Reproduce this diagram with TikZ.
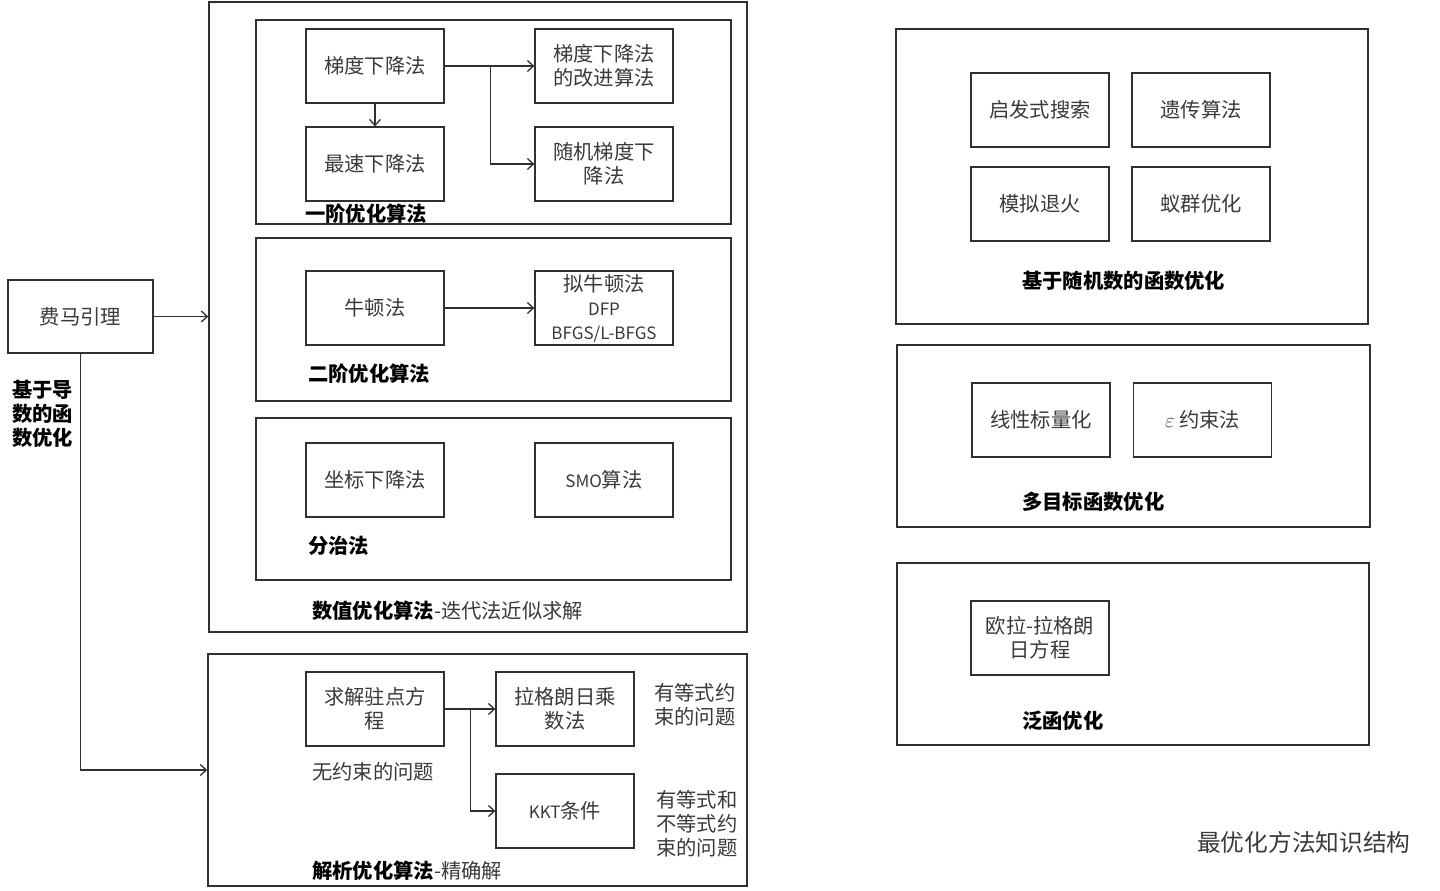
\documentclass[tikz,border=0pt]{standalone}
\usepackage{fontspec}
\setmainfont{Noto Sans CJK SC}
\usetikzlibrary{arrows.meta}
\definecolor{linec}{HTML}{303030}
\definecolor{txt}{HTML}{3A3A3A}
\newcommand{\latsmall}{\fontsize{17}{24}\selectfont}
\begin{document}
\begin{tikzpicture}[x=1pt,y=-1pt,
  box/.style={draw=linec, line width=1.3pt, minimum width=138pt, minimum height=74pt, inner sep=0pt, align=center, font=\fontsize{20.3}{24}\selectfont, text=txt},
  frame/.style={draw=linec, line width=1.5pt, inner sep=0pt},
  lab/.style={font=\fontsize{20.3}{24}\selectfont\bfseries, anchor=west, inner sep=0pt, text=black, align=left},
  note/.style={font=\fontsize{20.3}{24}\selectfont, align=left, anchor=west, inner sep=0pt, text=txt},
  arr/.style={draw=linec, line width=1.3pt, -{Straight Barb[length=6pt,width=11pt,line width=1.3pt]}},
]
\fill[white] (0,0) rectangle (1440,891);
\useasboundingbox (0,0) rectangle (1440,891);

% frames
\node[frame, minimum width=538pt, minimum height=630pt] (big1) at (478,317) {};
\node[frame, minimum width=539pt, minimum height=232pt] (big2) at (477.5,770) {};
\node[frame, minimum width=475pt, minimum height=204pt] (sub1) at (493.5,122) {};
\node[frame, minimum width=475pt, minimum height=163pt] (sub2) at (493.5,319.5) {};
\node[frame, minimum width=475pt, minimum height=162pt] (sub3) at (493.5,499) {};
\node[frame, minimum width=472pt, minimum height=295pt] (r1) at (1132,176.5) {};
\node[frame, minimum width=473pt, minimum height=182pt] (r2) at (1133.5,436) {};
\node[frame, minimum width=472pt, minimum height=182pt] (r3) at (1133,654) {};

% left
\node[box, minimum width=145pt, minimum height=73pt] (fermat) at (80.5,316.5) {费马引理};
\node[lab] (derivlab) at (12,414) {基于导\\数的函\\数优化};

% first order
\node[box] (gd) at (375,66) {梯度下降法};
\node[box] (gdi) at (604,66) {梯度下降法\\的改进算法};
\node[box] (sd) at (375,164) {最速下降法};
\node[box] (sgd) at (604,164) {随机梯度下\\降法};
\node[lab] (l1) at (305,214) {一阶优化算法};

% second order
\node[box] (newton) at (375,308) {牛顿法};
\node[box] (qn) at (604,308) {拟牛顿法\\{\latsmall DFP}\\{\latsmall BFGS/L-BFGS}};
\node[lab] (l2) at (308,374) {二阶优化算法};

% divide
\node[box] (cd) at (375,480) {坐标下降法};
\node[box] (smo) at (604,480) {{\latsmall SMO}算法};
\node[lab] (l3) at (308,546) {分治法};

\node[note] (numlab) at (312,611) {{\bfseries\color{black}数值优化算法}-迭代法近似求解};

% analytic
\node[box] (stat) at (375,709) {求解驻点方\\程};
\node[box] (lag) at (565,709) {拉格朗日乘\\数法};
\node[box] (kkt) at (565,811) {{\latsmall KKT}条件};
\node[note] (n1) at (312,772) {无约束的问题};
\node[note] (n2) at (654,705) {有等式约\\束的问题};
\node[note] (n3) at (656,824) {有等式和\\不等式约\\束的问题};
\node[note] (analab) at (312,871) {{\bfseries\color{black}解析优化算法}-精确解};

% right
\node[box] (heur) at (1040,110) {启发式搜索};
\node[box] (ga) at (1201,110) {遗传算法};
\node[box] (sa) at (1040,204) {模拟退火};
\node[box] (aco) at (1201,204) {蚁群优化};
\node[lab] (lr1) at (1022,281) {基于随机数的函数优化};

\node[box] (lin) at (1041,420) {线性标量化};
\node[box] (eps) at (1202.5,420) {$\varepsilon$ 约束法};
\node[lab] (lr2) at (1022,502) {多目标函数优化};

\node[box] (el) at (1040,638) {欧拉-拉格朗\\日方程};
\node[lab] (lr3) at (1022,721) {泛函优化};

\node[note, font=\fontsize{23.7}{28}\selectfont] (title) at (1197,842) {最优化方法知识结构};

% connectors
\draw[arr] (fermat.east) -- (fermat.east -| big1.west);
\draw[arr] (fermat.south) |- (big2.west);
\draw[arr] (gd.east) -- (gdi.west);
\draw[arr] (gd.east) -- ++(46,0) |- (sgd.west);
\draw[arr] (gd.south) -- (sd.north);
\draw[arr] (newton.east) -- (qn.west);
\draw[arr] (stat.east) -- (lag.west);
\draw[arr] (stat.east) -- ++(26,0) |- (kkt.west);
\end{tikzpicture}
\end{document}
